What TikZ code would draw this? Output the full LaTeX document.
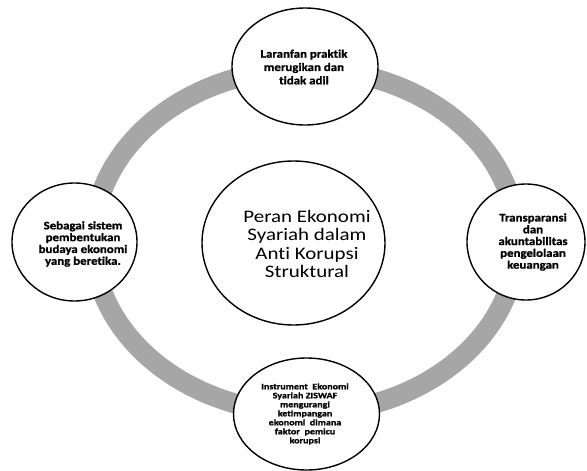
\documentclass[tikz,border=0pt]{standalone}
\usepackage{fontspec}
\setmainfont{Carlito}
\newfontfamily\calst[FakeStretch=1.12, Ligatures=NoCommon, UprightFont={Carlito}, BoldFont={Carlito Bold}, BoldFeatures={FakeBold=1.2}]{Carlito}
\newfontfamily\calbig[FakeStretch=1.19, Ligatures=NoCommon]{Carlito}
\newfontfamily\calwide[FakeStretch=1.2, Ligatures=NoCommon, UprightFont={Carlito}, BoldFont={Carlito Bold}, BoldFeatures={FakeBold=1.2}]{Carlito}
\usetikzlibrary{shapes.geometric}
\definecolor{ringgray}{HTML}{A6A6A6}
\begin{document}
\begin{tikzpicture}[x=1pt,y=-1pt,
  bubble/.style={ellipse, draw=black, line width=1.4pt, fill=white, inner sep=0pt},
  txt/.style={align=center, inner sep=0pt, text=black},
  smalltxt/.style={txt, font={\calst\bfseries\fontsize{11.5}{11.8}\selectfont}},
  toptxt/.style={txt, font={\calst\bfseries\fontsize{11.5}{13.3}\selectfont}},
  bigtxt/.style={txt, font={\calbig\fontsize{17.6}{18.4}\selectfont}},
  tinytxt/.style={txt, font={\calwide\bfseries\fontsize{8.4}{9}\selectfont}},
  ring/.style={draw=ringgray, line width=20pt}
]
\useasboundingbox (0,0) rectangle (587,471);
\draw[ring] (305,241) ellipse [x radius=212pt, y radius=172pt];
\node[bubble, minimum width=146pt, minimum height=117pt] (top) at (305,66.5) {};
\node[bubble, minimum width=125pt, minimum height=118pt] (left) at (74.5,242) {};
\node[bubble, minimum width=118pt, minimum height=116pt] (right) at (526,242) {};
\node[bubble, minimum width=146pt, minimum height=112pt] (bottom) at (306.5,414) {};
\node[bubble, minimum width=183pt, minimum height=164pt] (center) at (293.5,243) {};
\node[toptxt] (toptext) at (304,67) {Laranfan praktik\\merugikan dan\\tidak adil};
\node[smalltxt] (lefttext) at (83,244) {Sebagai sistem\\pembentukan\\budaya ekonomi\\yang beretika.};
\node[smalltxt] (righttext) at (533,242) {Transparansi\\dan\\akuntabilitas\\pengelolaan\\keuangan};
\node[bigtxt] (centertext) at (307,244) {Peran Ekonomi\\Syariah dalam\\Anti Korupsi\\Struktural};
\node[tinytxt] (bottomtext) at (305,414) {Instrument\ \ Ekonomi\\Syariah ZISWAF\\mengurangi\\ketimpangan\\ekonomi\ \ dimana\\faktor\ \ pemicu\\korupsi};
\end{tikzpicture}
\end{document}
